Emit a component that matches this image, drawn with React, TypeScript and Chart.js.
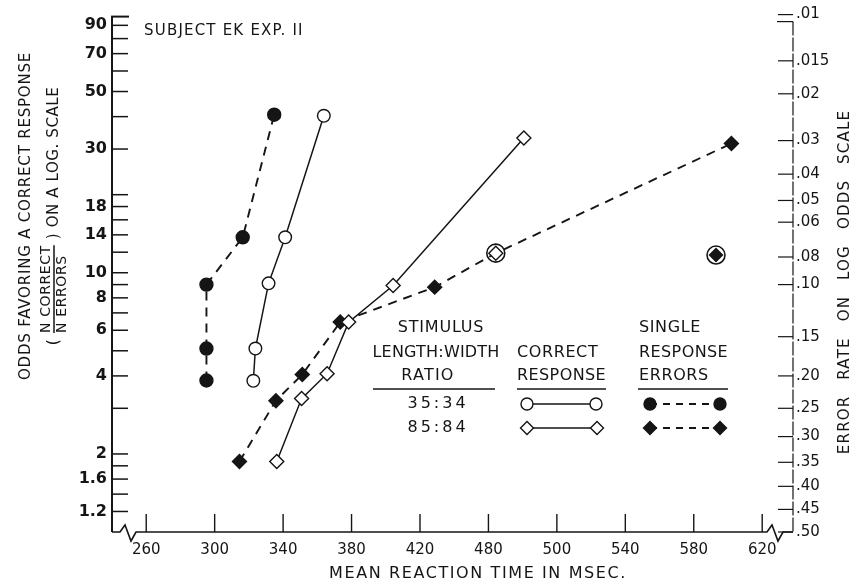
import React, { useEffect, useRef } from "react";
import { Chart, registerables } from "chart.js";

Chart.register(...registerables);

// ---------------- data ----------------
const xTickValues = [260, 300, 340, 380, 420, 460, 500, 540, 580, 620];
const xTickLabels = ["260", "300", "340", "380", "420", "480", "500", "540", "580", "620"];

const oddsTickValues = [90, 80, 70, 60, 50, 40, 30, 20, 18, 16, 14, 12, 10, 9, 8, 7, 6, 5, 4, 3, 2, 1.8, 1.6, 1.4, 1.2];
const oddsTickLabels = ["90", "", "70", "", "50", "", "30", "", "18", "", "14", "", "10", "", "8", "", "6", "", "4", "", "2", "", "1.6", "", "1.2"];

const errorRateValues = [0.01, 0.015, 0.02, 0.03, 0.04, 0.05, 0.06, 0.08, 0.1, 0.15, 0.2, 0.25, 0.3, 0.35, 0.4, 0.45, 0.5];
const errorRateLabels = [".01", ".015", ".02", ".03", ".04", ".05", ".06", ".08", ".10", ".15", ".20", ".25", ".30", ".35", ".40", ".45", ".50"];

// 35:34 stimulus
const rtCorrect3534 = [322.6, 323.8, 331.5, 341.2, 363.8];
const oddsCorrect3534 = [3.83, 5.1, 9.1, 13.7, 40.3];
const rtErrors3534 = [295.2, 295.2, 295.2, 316.4, 334.8];
const oddsErrors3534 = [3.84, 5.1, 9.0, 13.7, 40.7];

// 85:84 stimulus
const rtCorrect8584 = [336.3, 350.8, 365.7, 378.3, 404.3, 480.7];
const oddsCorrect8584 = [1.87, 3.27, 4.08, 6.45, 8.93, 33.1];
const rtErrors8584 = [314.5, 335.8, 351.2, 373.4, 428.6, 464.3, 602];
const oddsErrors8584 = [1.87, 3.21, 4.05, 6.45, 8.8, 11.9, 31.5];
const openErrorPoint8584 = [false, false, false, false, false, true, false];

// isolated circled error point
const rtIsolated8584 = [593];
const oddsIsolated8584 = [11.7];

// circled points
const rtCircled = [464.3, 593];
const oddsCircled = [11.9, 11.7];

const xMin = 240;
const xMax = 638;
const oddsMin = 1;
const oddsMax = 99;

const INK = "#151515";
const FONT = "'DejaVu Sans', 'Liberation Sans', sans-serif";

const pts = (xs: number[], ys: number[]) => xs.map((x, i) => ({ x, y: ys[i] }));

function drawText(
  ctx: CanvasRenderingContext2D,
  s: string,
  x: number,
  y: number,
  size: number,
  align: CanvasTextAlign = "left",
  spacing = 0,
  weight = "normal",
  wordSpacing = 0
) {
  ctx.save();
  ctx.font = `${weight} ${size}px ${FONT}`;
  (ctx as any).letterSpacing = `${spacing}px`;
  (ctx as any).wordSpacing = `${wordSpacing}px`;
  ctx.textAlign = align;
  ctx.textBaseline = "middle";
  ctx.fillStyle = INK;
  ctx.fillText(s, x, y);
  ctx.restore();
}

function seg(ctx: CanvasRenderingContext2D, x1: number, y1: number, x2: number, y2: number) {
  ctx.beginPath();
  ctx.moveTo(x1, y1);
  ctx.lineTo(x2, y2);
  ctx.stroke();
}

function marker(ctx: CanvasRenderingContext2D, kind: "circle" | "diamond", x: number, y: number, filled: boolean) {
  ctx.save();
  ctx.beginPath();
  if (kind === "circle") {
    ctx.arc(x, y, 6, 0, Math.PI * 2);
  } else {
    const r = 6.5;
    ctx.moveTo(x, y - r);
    ctx.lineTo(x + r, y);
    ctx.lineTo(x, y + r);
    ctx.lineTo(x - r, y);
    ctx.closePath();
  }
  ctx.fillStyle = filled ? INK : "#fff";
  ctx.fill();
  ctx.lineWidth = 1.4;
  ctx.strokeStyle = INK;
  ctx.stroke();
  ctx.restore();
}

const decorPlugin = {
  id: "decor",
  afterDraw(chart: any) {
    const ctx: CanvasRenderingContext2D = chart.ctx;
    const { left, right, top, bottom } = chart.chartArea;
    const xs = chart.scales.x;
    const ys = chart.scales.y;
    const y2 = chart.scales.y2;
    ctx.save();
    ctx.strokeStyle = INK;
    ctx.lineCap = "butt";

    // left axis
    ctx.lineWidth = 2;
    seg(ctx, left, top + 2, left, bottom);
    seg(ctx, left - 1, top + 2, left + 17, top + 2);
    ctx.lineWidth = 1.5;
    ys.ticks.forEach((t: any) => {
      const y = ys.getPixelForValue(t.value);
      seg(ctx, left, y, left + 16, y);
    });

    // right axis
    ctx.lineWidth = 1.2;
    ctx.setLineDash([14, 2]);
    seg(ctx, right, top + 7, right, bottom);
    ctx.setLineDash([]);
    seg(ctx, right - 16, top + 7, right, top + 7);
    y2.ticks.forEach((t: any) => {
      const y = y2.getPixelForValue(t.value);
      seg(ctx, right - 15, y, right, y);
    });

    // x axis with breaks
    ctx.lineWidth = 1.6;
    ctx.beginPath();
    ctx.moveTo(left, bottom);
    ctx.lineTo(left + 8, bottom);
    ctx.lineTo(left + 13, bottom - 7);
    ctx.lineTo(left + 19, bottom + 9);
    ctx.lineTo(left + 24, bottom);
    ctx.lineTo(right - 26, bottom);
    ctx.lineTo(right - 21, bottom - 7);
    ctx.lineTo(right - 15, bottom + 9);
    ctx.lineTo(right - 10, bottom);
    ctx.lineTo(right, bottom);
    ctx.stroke();
    ctx.lineWidth = 1.4;
    xs.ticks.forEach((t: any) => {
      const x = xs.getPixelForValue(t.value);
      seg(ctx, x, bottom, x, bottom - 18);
    });

    // subject text
    drawText(ctx, "SUBJECT EK EXP. II", 144, 31, 15, "left", 1.2);

    // legend
    const LS = 16;
    drawText(ctx, "STIMULUS", 441, 328, LS, "center", 0.8);
    drawText(ctx, "LENGTH:WIDTH", 436, 353, LS, "center", 0.2);
    drawText(ctx, "RATIO", 428, 376, LS, "center", 1.2);
    drawText(ctx, "CORRECT", 517, 353, LS, "left", 0.6);
    drawText(ctx, "RESPONSE", 517, 376, LS, "left", 0.4);
    drawText(ctx, "SINGLE", 639, 328, LS, "left", 0.6);
    drawText(ctx, "RESPONSE", 639, 353, LS, "left", 0.4);
    drawText(ctx, "ERRORS", 639, 376, LS, "left", 0.6);
    ctx.lineWidth = 1.6;
    seg(ctx, 373, 389, 495, 389);
    seg(ctx, 517, 389, 606, 389);
    seg(ctx, 638, 389, 728, 389);
    drawText(ctx, "35:34", 438, 404, LS, "center", 3);
    drawText(ctx, "85:84", 438, 428, LS, "center", 3);

    ctx.lineWidth = 1.3;
    seg(ctx, 527, 404, 596, 404);
    seg(ctx, 527, 428, 597, 428);
    marker(ctx, "circle", 527, 404, false);
    marker(ctx, "circle", 596, 404, false);
    marker(ctx, "diamond", 527, 428, false);
    marker(ctx, "diamond", 597, 428, false);
    ctx.lineWidth = 1.8;
    ctx.setLineDash([7, 6]);
    seg(ctx, 650, 404, 720, 404);
    seg(ctx, 650, 428, 720, 428);
    ctx.setLineDash([]);
    marker(ctx, "circle", 650, 404, true);
    marker(ctx, "circle", 720, 404, true);
    marker(ctx, "diamond", 650, 428, true);
    marker(ctx, "diamond", 720, 428, true);

    // x title
    drawText(ctx, "MEAN REACTION TIME IN MSEC.", 478, 574, 16, "center", 1.6);

    // left title (rotated)
    const cy = 216;
    ctx.save();
    ctx.translate(26, cy);
    ctx.rotate(-Math.PI / 2);
    drawText(ctx, "ODDS FAVORING A CORRECT RESPONSE", 0, 0, 15, "center", 0.8);
    ctx.restore();

    ctx.save();
    ctx.translate(54, cy);
    ctx.rotate(-Math.PI / 2);
    // composite line: "( N CORRECT / N ERRORS ) ON A LOG. SCALE"
    ctx.font = `normal 15px ${FONT}`;
    (ctx as any).letterSpacing = "0.6px";
    const wParen = ctx.measureText("(").width;
    const wRest = ctx.measureText(") ON A LOG. SCALE").width;
    ctx.font = `normal 14px ${FONT}`;
    const wFrac = ctx.measureText("N CORRECT").width;
    const total = wParen + 6 + wFrac + 6 + wRest;
    let u = -total / 2;
    drawText(ctx, "(", u, 0, 15, "left", 0.6);
    u += wParen + 6;
    drawText(ctx, "N CORRECT", u, -8, 14, "left", 0.6);
    drawText(ctx, "N ERRORS", u, 8, 14, "left", 0.6);
    ctx.lineWidth = 1.5;
    seg(ctx, u, 0, u + wFrac, 0);
    u += wFrac + 6;
    drawText(ctx, ") ON A LOG. SCALE", u, 0, 15, "left", 0.6);
    ctx.restore();

    // right title (rotated)
    ctx.save();
    ctx.translate(845, 282);
    ctx.rotate(-Math.PI / 2);
    drawText(ctx, "ERROR RATE ON LOG ODDS SCALE", 0, 0, 15, "center", 1.2, "normal", 10);
    ctx.restore();

    ctx.restore();
  },
};

export default function App() {
  const ref = useRef<HTMLCanvasElement>(null);

  useEffect(() => {
    const canvas = ref.current!;
    const lineBase = {
      borderColor: INK,
      pointBorderColor: INK,
      pointBorderWidth: 1.4,
      showLine: true,
      tension: 0,
      fill: false,
    };
    const chart = new Chart(canvas, {
      type: "line",
      data: {
        datasets: [
          {
            ...lineBase,
            label: "35:34 correct",
            data: pts(rtCorrect3534, oddsCorrect3534),
            borderWidth: 1.5,
            pointStyle: "circle",
            pointRadius: 6.3,
            pointBackgroundColor: "#fff",
          },
          {
            ...lineBase,
            label: "35:34 errors",
            data: pts(rtErrors3534, oddsErrors3534),
            borderWidth: 1.9,
            borderDash: [9, 7],
            pointStyle: "circle",
            pointRadius: 6.5,
            pointBackgroundColor: INK,
          },
          {
            ...lineBase,
            label: "85:84 correct",
            data: pts(rtCorrect8584, oddsCorrect8584),
            borderWidth: 1.5,
            pointStyle: "rectRot",
            pointRadius: 7,
            pointBackgroundColor: "#fff",
          },
          {
            ...lineBase,
            label: "85:84 errors",
            data: pts(rtErrors8584, oddsErrors8584),
            borderWidth: 1.9,
            borderDash: [9, 7],
            pointStyle: "rectRot",
            pointRadius: 7,
            pointBackgroundColor: openErrorPoint8584.map((o) => (o ? "#fff" : INK)),
          },
          {
            ...lineBase,
            label: "85:84 isolated error",
            data: pts(rtIsolated8584, oddsIsolated8584),
            showLine: false,
            pointStyle: "rectRot",
            pointRadius: 6.5,
            pointBackgroundColor: INK,
          },
          {
            ...lineBase,
            label: "circled",
            data: pts(rtCircled, oddsCircled),
            showLine: false,
            pointStyle: "circle",
            pointRadius: 9,
            pointBorderWidth: 1.6,
            pointBackgroundColor: "rgba(0,0,0,0)",
          },
        ],
      },
      options: {
        responsive: false,
        animation: false,
        devicePixelRatio: 1,
        layout: { padding: { top: 5, left: 0, right: 0, bottom: 0 } },
        plugins: { legend: { display: false }, tooltip: { enabled: false } },
        scales: {
          x: {
            type: "linear",
            min: xMin,
            max: xMax,
            grid: { display: false, drawTicks: false },
            border: { display: false },
            afterBuildTicks: (s: any) => {
              s.ticks = xTickValues.map((v) => ({ value: v }));
            },
            afterFit: (s: any) => {
              s.height = 52;
            },
            ticks: {
              autoSkip: false,
              maxRotation: 0,
              padding: 9,
              color: INK,
              font: { family: FONT, size: 15 },
              callback: (_v: any, i: number) => xTickLabels[i],
            },
          },
          y: {
            type: "logarithmic",
            position: "left",
            min: oddsMin,
            max: oddsMax,
            grid: { display: false, drawTicks: false },
            border: { display: false },
            afterBuildTicks: (s: any) => {
              s.ticks = oddsTickValues.map((v) => ({ value: v }));
            },
            afterFit: (s: any) => {
              s.width = 112;
            },
            ticks: {
              autoSkip: false,
              padding: 5,
              color: INK,
              font: { family: FONT, size: 16, weight: "bold" },
              callback: (_v: any, i: number) => oddsTickLabels[i],
            },
          },
          y2: {
            type: "logarithmic",
            position: "right",
            min: oddsMin,
            max: oddsMax,
            grid: { display: false, drawTicks: false },
            border: { display: false },
            afterBuildTicks: (s: any) => {
              s.ticks = errorRateValues.map((p) => ({ value: (1 - p) / p }));
            },
            afterFit: (s: any) => {
              s.width = 65;
            },
            ticks: {
              autoSkip: false,
              padding: 3,
              color: INK,
              font: { family: FONT, size: 15 },
              callback: (_v: any, i: number) => errorRateLabels[i],
            },
          },
        },
      },
      plugins: [decorPlugin],
    } as any);
    return () => chart.destroy();
  }, []);

  return (
    <div style={{ position: "absolute", left: 0, top: 0, width: 858, height: 584, background: "#fff" }}>
      <canvas ref={ref} width={858} height={584} style={{ display: "block" }} />
    </div>
  );
}
